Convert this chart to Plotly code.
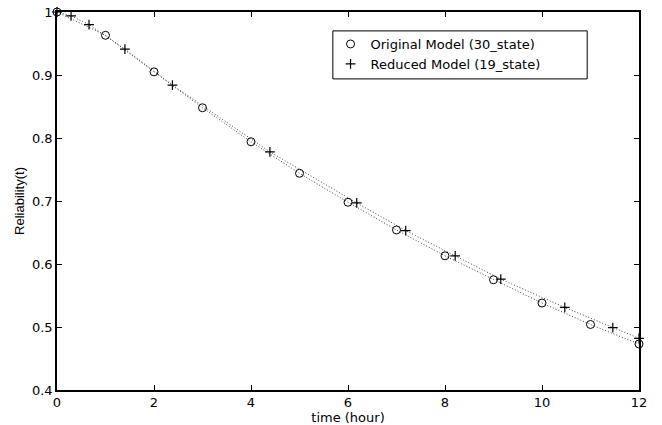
import plotly.graph_objects as go

# Original Model (30_state)
t_orig = [0, 1, 2, 3, 4, 5, 6, 7, 8, 9, 10, 11, 12]
r_orig = [1.0, 0.963, 0.905, 0.848, 0.794, 0.744, 0.698, 0.654, 0.613, 0.575, 0.538, 0.504, 0.473]

# Reduced Model (19_state)
t_red = [0, 0.29, 0.66, 1.40, 2.38, 4.39, 6.18, 7.19, 8.21, 9.15, 10.47, 11.46, 12]
r_red = [1.0, 0.994, 0.980, 0.941, 0.884, 0.778, 0.697, 0.653, 0.613, 0.576, 0.531, 0.499, 0.482]

x_ticks = [0, 2, 4, 6, 8, 10, 12]
y_ticks = [0.4, 0.5, 0.6, 0.7, 0.8, 0.9, 1.0]
y_ticktext = ["0.4", "0.5", "0.6", "0.7", "0.8", "0.9", "1"]

FONT = "DejaVu Sans, Liberation Sans, Arial, sans-serif"
FONT_Y = "Liberation Sans, Arial, sans-serif"

fig = go.Figure()
line_style = dict(color="#444444", width=1, dash="1px,2px")
fig.add_trace(go.Scatter(x=t_orig, y=r_orig, mode="lines", line=line_style,
                         showlegend=False, hoverinfo="skip", cliponaxis=False))
fig.add_trace(go.Scatter(x=t_red, y=r_red, mode="lines", line=line_style,
                         showlegend=False, hoverinfo="skip", cliponaxis=False))
fig.add_trace(go.Scatter(x=t_orig, y=r_orig, mode="markers", name="Original Model (30_state)",
                         marker=dict(symbol="circle-open", size=8, color="black",
                                     line=dict(color="black", width=1)),
                         cliponaxis=False))
fig.add_trace(go.Scatter(x=t_red, y=r_red, mode="markers", name="Reduced Model (19_state)",
                         marker=dict(symbol="cross-thin-open", size=7, color="black",
                                     line=dict(color="black", width=1.2)),
                         cliponaxis=False))

axis_common = dict(showgrid=False, zeroline=False, showline=True, linecolor="black",
                   linewidth=1.5, mirror="allticks", ticks="inside", ticklen=5,
                   tickcolor="black", tickwidth=1,
                   tickfont=dict(family=FONT, size=13, color="black"))

fig.update_xaxes(range=[0, 12], tickvals=x_ticks, automargin=False,
                 title=dict(text="time (hour)", font=dict(family=FONT, size=13, color="black")),
                 **axis_common)
fig.update_yaxes(range=[0.4, 1.0], tickvals=y_ticks, ticktext=y_ticktext, automargin="left",
                 title=dict(text="Reliability(t)", font=dict(family=FONT_Y, size=13, color="black"),
                            standoff=4),
                 **axis_common)

# legend frame (paper coordinates)
fig.add_shape(type="rect", xref="paper", yref="paper",
              x0=0.474, x1=0.911, y0=0.823, y1=0.950,
              line=dict(color="black", width=1), fillcolor="white", layer="above")

fig.update_layout(
    width=662, height=425,
    margin=dict(l=57, r=23, t=12, b=35),
    paper_bgcolor="white", plot_bgcolor="white",
    font=dict(family=FONT, color="black"),
    legend=dict(x=0.470, y=0.955, xanchor="left", yanchor="top",
                bgcolor="rgba(0,0,0,0)", borderwidth=0,
                font=dict(family=FONT, size=13, color="black"),
                itemwidth=30, tracegroupgap=0),
)

fig.write_html("out.html", config={"displayModeBar": False},
               post_script="document.body.style.margin='0px';")
